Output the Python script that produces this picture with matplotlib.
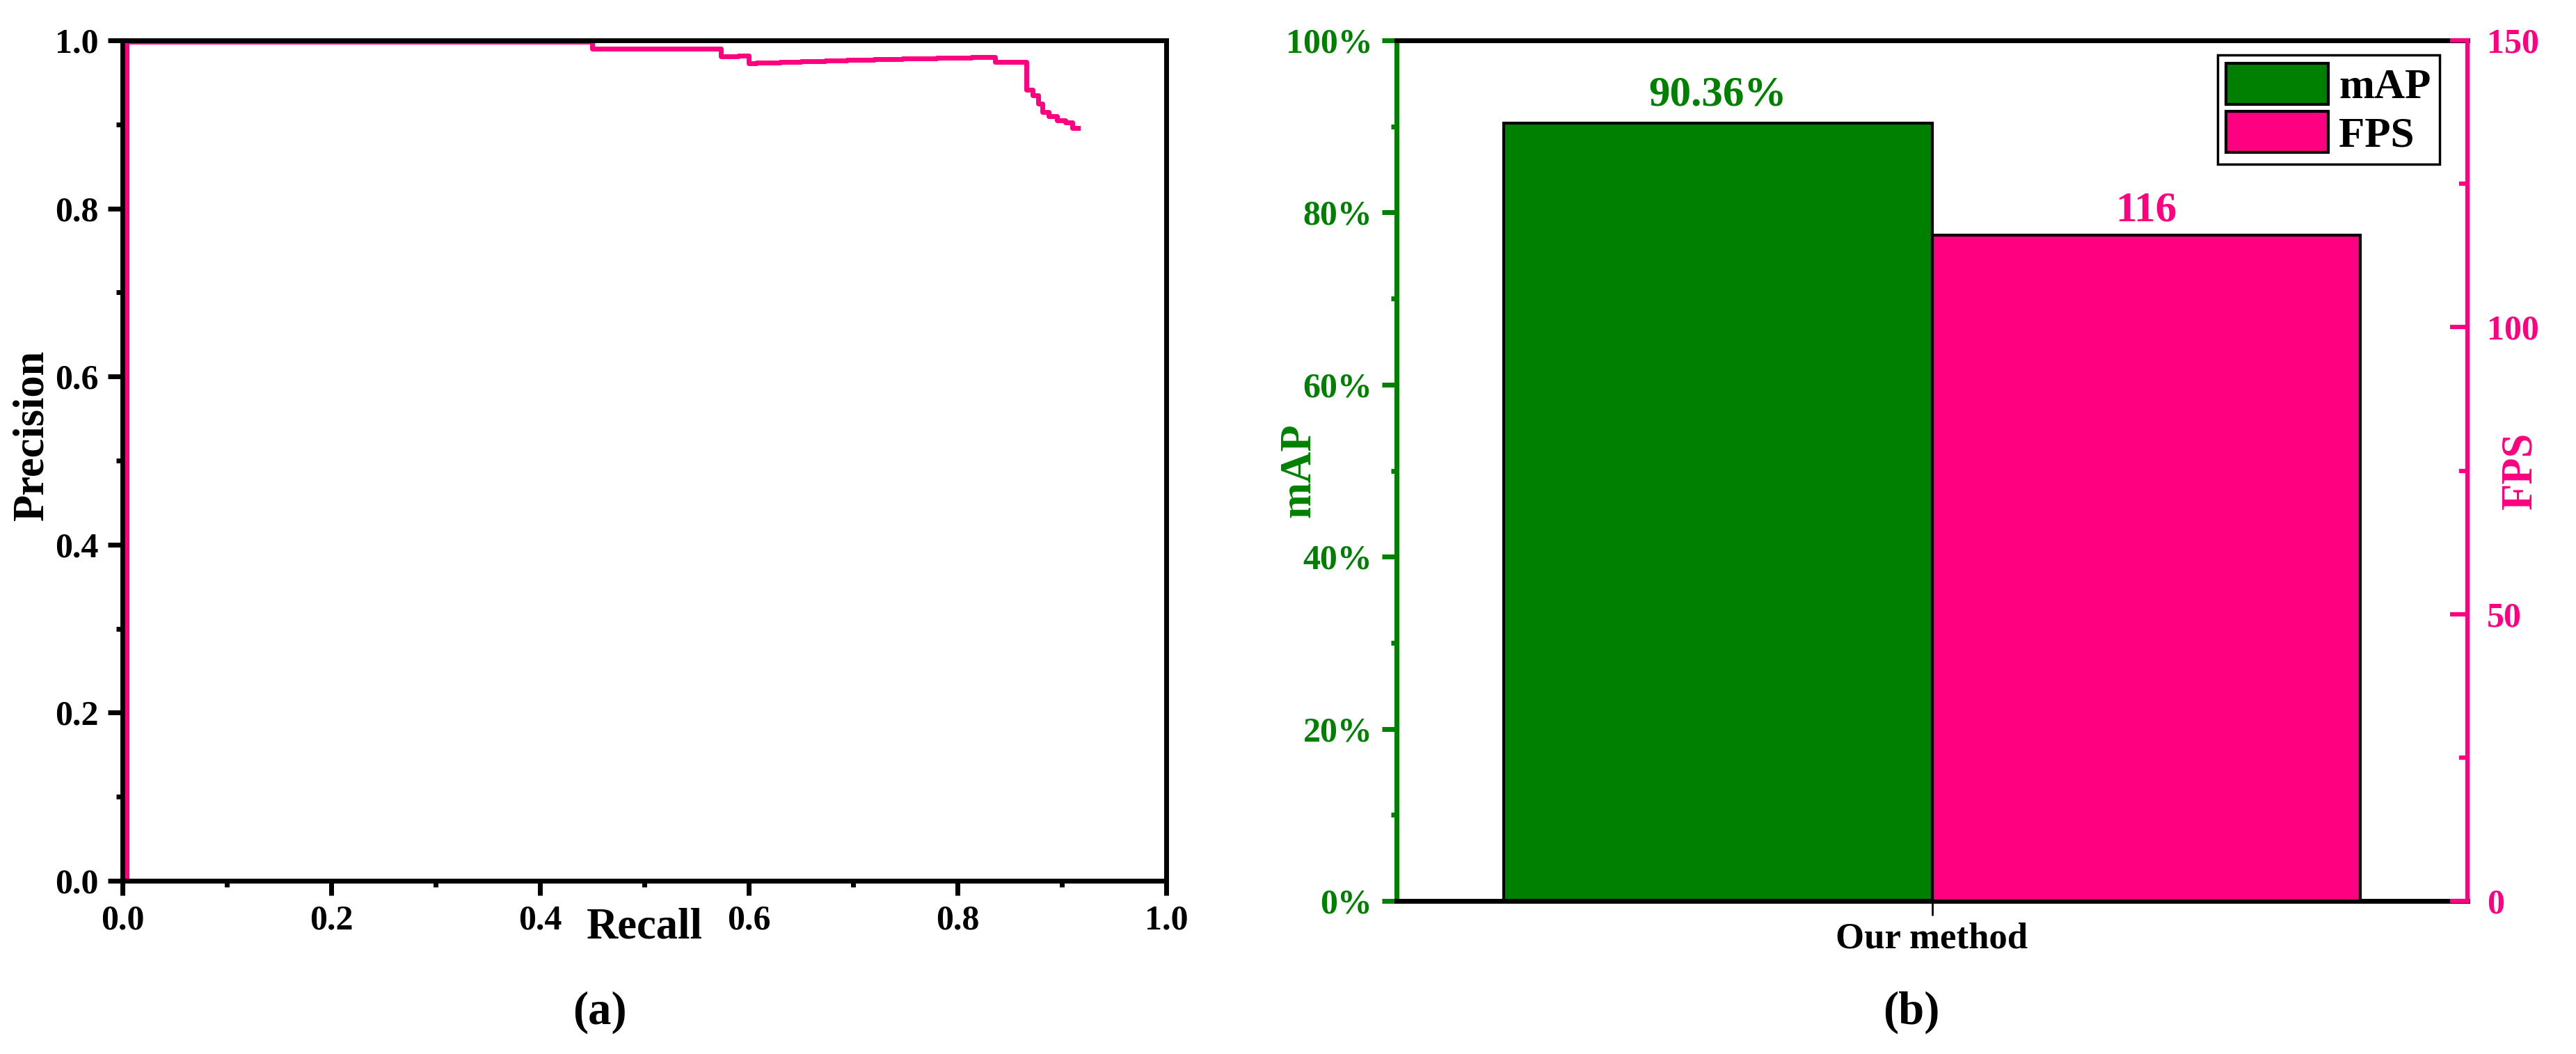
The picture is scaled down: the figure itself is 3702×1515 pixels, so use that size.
import matplotlib
matplotlib.use('Agg')
import matplotlib.pyplot as plt
from matplotlib.ticker import MultipleLocator, FuncFormatter
from matplotlib.patches import Patch

# ---------------- data ----------------
recall = [0.001, 0.004, 0.450, 0.573, 0.590, 0.600, 0.607, 0.630, 0.650, 0.673,
          0.694, 0.720, 0.747, 0.780, 0.813, 0.836, 0.866, 0.872, 0.877, 0.881,
          0.887, 0.895, 0.903, 0.910, 0.915]
precision = [0.0, 0.998, 0.990, 0.981, 0.982, 0.9725, 0.9737, 0.9745, 0.9753, 0.976,
             0.977, 0.978, 0.9785, 0.9793, 0.9804, 0.974, 0.941, 0.935, 0.925, 0.915,
             0.910, 0.905, 0.902, 0.896, 0.896]

methods = ['Our method']
map_values = [90.36]   # percent
fps_values = [116]
map_labels = ['90.36%']
fps_labels = ['116']

GREEN = '#008000'
PINK = '#FF0080'

plt.rcParams['font.family'] = ['Liberation Serif', 'DejaVu Serif']
plt.rcParams['font.weight'] = 'bold'
plt.rcParams['axes.labelweight'] = 'bold'

fig = plt.figure(figsize=(37.02, 15.15), dpi=100)

# ---------------- (a) PR curve ----------------
ax1 = fig.add_axes([0.04754, 0.16436, 0.40519, 0.79736])
ax1.plot(recall, precision, drawstyle='steps-post', color=PINK, lw=5, zorder=2)
ax1.set_xlim(0, 1)
ax1.set_ylim(0, 1)
ax1.xaxis.set_major_locator(MultipleLocator(0.2))
ax1.xaxis.set_minor_locator(MultipleLocator(0.1))
ax1.yaxis.set_major_locator(MultipleLocator(0.2))
ax1.yaxis.set_minor_locator(MultipleLocator(0.1))
fmt1 = FuncFormatter(lambda v, p: f'{v:.1f}')
ax1.xaxis.set_major_formatter(fmt1)
ax1.yaxis.set_major_formatter(fmt1)
for s in ax1.spines.values():
    s.set_linewidth(5)
    s.set_color('black')
ax1.tick_params(which='major', direction='out', length=15, width=5, labelsize=36, pad=10)
ax1.tick_params(which='minor', direction='out', length=6.5, width=5)
ax1.tick_params(which='both', top=False, right=False)
ax1.set_ylabel('Precision', fontsize=45)
ax1.yaxis.set_label_coords(-0.067, 0.53)
ax1.set_xlabel('Recall', fontsize=45)
ax1.xaxis.set_label_coords(0.5, -0.0315)

# ---------------- (b) bars ----------------
axR = fig.add_axes([0.54214, 0.14521, 0.41572, 0.81650])
ax2 = axR.twinx()
x = list(range(len(methods)))
w = 0.4
axR.bar([xi - w / 2 for xi in x], map_values, w, color=GREEN, edgecolor='black', lw=3, zorder=2)
ax2.bar([xi + w / 2 for xi in x], fps_values, w, color=PINK, edgecolor='black', lw=3, zorder=2)
axR.set_xlim(-0.5, 0.5)
axR.set_ylim(0, 100)
ax2.set_ylim(0, 150)
axR.set_xticks(x)
axR.set_xticklabels(methods, fontsize=38)

for xi, v, t in zip(x, map_values, map_labels):
    axR.annotate(t, (xi - w / 2, v), xytext=(0, 9), textcoords='offset points',
                 ha='center', va='bottom', color=GREEN, fontsize=44, fontweight='bold')
for xi, v, t in zip(x, fps_values, fps_labels):
    ax2.annotate(t, (xi + w / 2, v), xytext=(0, 6), textcoords='offset points',
                 ha='center', va='bottom', color=PINK, fontsize=44, fontweight='bold')

axR.yaxis.set_major_locator(MultipleLocator(20))
axR.yaxis.set_minor_locator(MultipleLocator(10))
axR.yaxis.set_major_formatter(FuncFormatter(lambda v, p: f'{v:.0f}%'))
ax2.yaxis.set_major_locator(MultipleLocator(50))
ax2.yaxis.set_minor_locator(MultipleLocator(25))

axR.spines['left'].set_color(GREEN)
axR.spines['left'].set_linewidth(5)
axR.spines['right'].set_visible(False)
axR.spines['top'].set_linewidth(5)
axR.spines['bottom'].set_linewidth(5)
ax2.spines['right'].set_color(PINK)
ax2.spines['right'].set_linewidth(4.5)
for k in ('left', 'top', 'bottom'):
    ax2.spines[k].set_visible(False)

axR.tick_params(axis='y', which='major', direction='out', length=15, width=5,
                color=GREEN, labelcolor=GREEN, labelsize=36, pad=10)
axR.tick_params(axis='y', which='minor', direction='out', length=6, width=5, color=GREEN)
axR.tick_params(axis='x', which='major', direction='out', length=15, width=2,
                color='black', pad=7)
ax2.tick_params(axis='y', which='major', direction='in', length=18, width=4.5,
                color=PINK, labelcolor=PINK, labelsize=36, pad=20)
ax2.tick_params(axis='y', which='minor', direction='in', length=9, width=4.5, color=PINK)

axR.set_ylabel('mAP', color=GREEN, fontsize=45)
axR.yaxis.set_label_coords(-0.072, 0.5)
ax2.set_ylabel('FPS', color=PINK, fontsize=45)
ax2.yaxis.set_label_coords(1.0305, 0.5)

handles = [Patch(facecolor=GREEN, edgecolor='black', lw=3, label='mAP'),
           Patch(facecolor=PINK, edgecolor='black', lw=3, label='FPS')]
leg = ax2.legend(handles=handles, loc='upper right', bbox_to_anchor=(0.974, 0.983),
                 borderaxespad=0, fontsize=44, handlelength=2.4, handleheight=1.1,
                 labelspacing=0.1, borderpad=0.2, handletextpad=0.25,
                 fancybox=False, framealpha=1, edgecolor='black')
leg.get_frame().set_linewidth(2.5)

# panel captions
fig.text(862 / 3702, 1 - 1455 / 1515, '(a)', ha='center', va='center', fontsize=48, fontweight='bold')
fig.text(2747 / 3702, 1 - 1455 / 1515, '(b)', ha='center', va='center', fontsize=48, fontweight='bold')

fig.savefig('out.png', dpi=100)
